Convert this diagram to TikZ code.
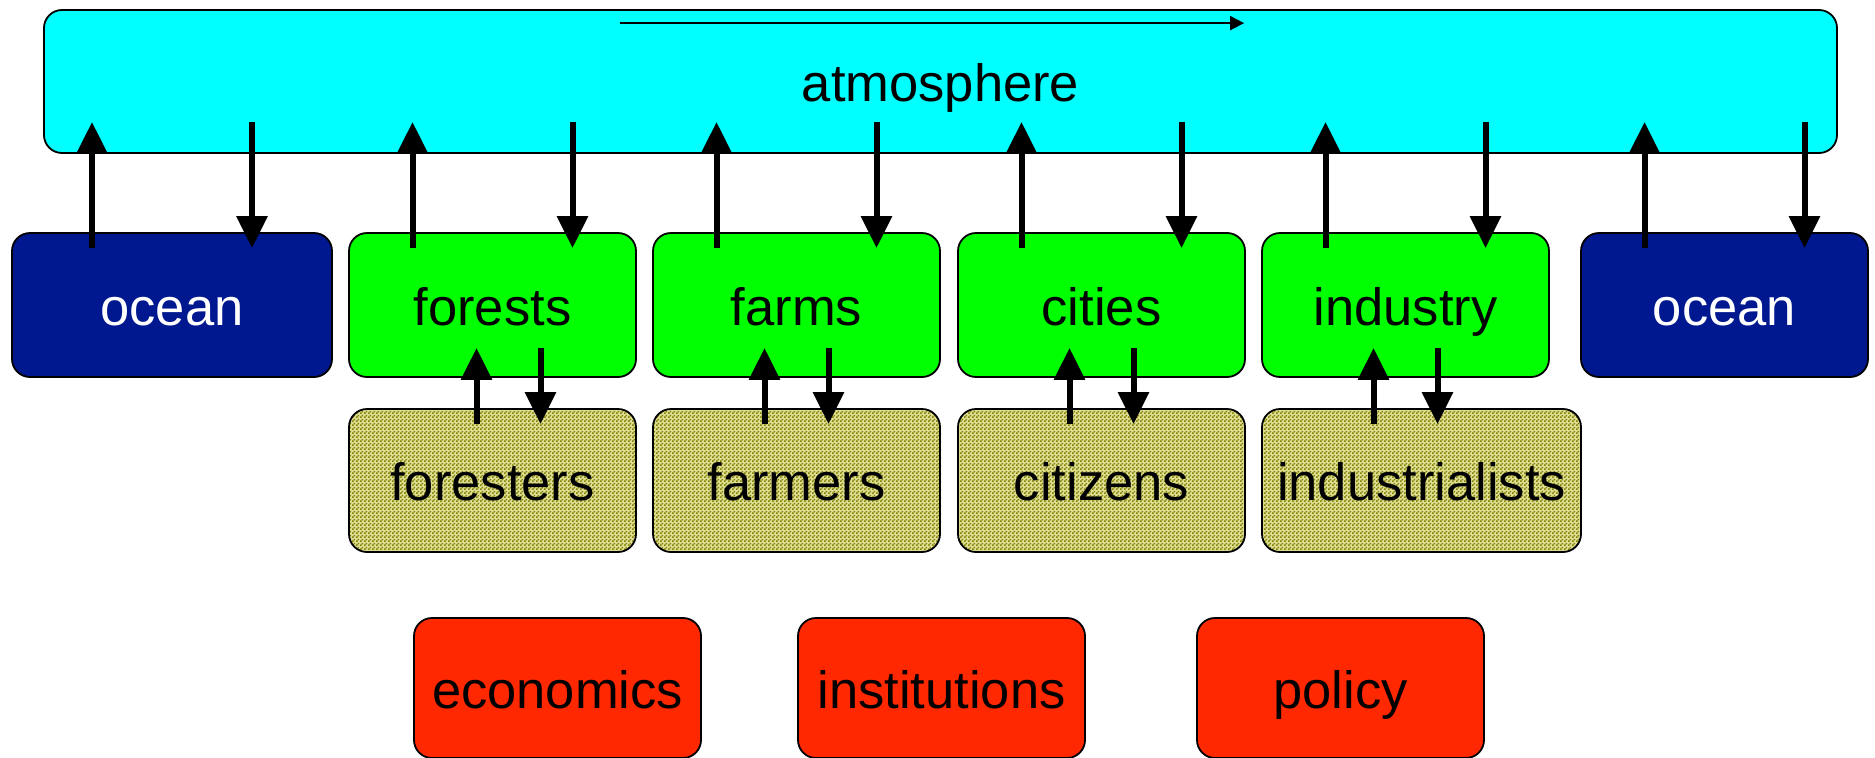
\documentclass[tikz,border=0pt]{standalone}
\usepackage{fontspec}
\setmainfont{Liberation Sans}
\usetikzlibrary{arrows.meta,patterns}
\pgfdeclarepatternformonly{finecheck}{\pgfpointorigin}{\pgfqpoint{4pt}{4pt}}{\pgfqpoint{4pt}{4pt}}{%
  \pgfpathrectangle{\pgfpointorigin}{\pgfqpoint{2pt}{2pt}}%
  \pgfpathrectangle{\pgfqpoint{2pt}{2pt}}{\pgfqpoint{2pt}{2pt}}%
  \pgfusepath{fill}}
\definecolor{atmocyan}{RGB}{0,255,255}
\definecolor{oceanblue}{RGB}{0,24,143}
\definecolor{landgreen}{RGB}{0,255,0}
\definecolor{socred}{RGB}{255,40,0}
\definecolor{checkolive}{RGB}{130,130,0}
\definecolor{checklight}{RGB}{222,222,150}
\tikzset{
  box/.style={draw=black, line width=1.8pt, rounded corners=18pt, inner sep=0pt,
    font=\fontsize{52.5}{60}\selectfont, text height=40pt, text depth=0pt, minimum height=144pt},
  atmobox/.style={box, fill=atmocyan, minimum width=1793pt, minimum height=143pt},
  oceanbox/.style={box, fill=oceanblue, text=white},
  landbox/.style={box, fill=landgreen, minimum width=287pt},
  peoplebox/.style={box, preaction={fill=checklight}, pattern=finecheck, pattern color=checkolive, minimum width=287pt, minimum height=143pt},
  sciencebox/.style={box, fill=socred, minimum width=287pt, minimum height=140pt},
  bigarrow/.style={line width=6pt, -{Triangle[width=30pt,length=32pt]}},
  thinarrow/.style={line width=1.8pt, -{Triangle[width=14pt,length=14pt]}}
}
\begin{document}
\begin{tikzpicture}[x=1pt,y=-1pt]
\useasboundingbox (0,0) rectangle (1875,758);
\node[atmobox] (atmo) at (940.5,81.5) {atmosphere};
\node[oceanbox, minimum width=320pt] (oceanL) at (172,305) {ocean};
\node[landbox] (forests) at (492.5,305) {forests};
\node[landbox] (farms) at (796.5,305) {farms};
\node[landbox] (cities) at (1101.5,305) {cities};
\node[landbox] (industry) at (1405.5,305) {industry};
\node[oceanbox, minimum width=287pt] (oceanR) at (1724.5,305) {ocean};
\node[peoplebox] (foresters) at (492.5,480.5) {foresters};
\node[peoplebox] (farmers) at (796.5,480.5) {farmers};
\node[peoplebox] (citizens) at (1101.5,480.5) {citizens};
\node[peoplebox, minimum width=319pt] (industrialists) at (1421.5,480.5) {industrialists};
\node[sciencebox] (economics) at (557.5,688) {economics};
\node[sciencebox] (institutions) at (941.5,688) {institutions};
\node[sciencebox] (policy) at (1340.5,688) {policy};
% flow arrow in atmosphere
\draw[thinarrow] ([shift={(577,14)}]atmo.north west) -- ([shift={(1201,14)}]atmo.north west);
% exchanges with the atmosphere
\foreach \n in {oceanL,forests,farms,cities,industry,oceanR}{
  \coordinate (A\n) at (\n.north |- atmo.south);
  \draw[bigarrow] ([shift={(-80,16)}]\n.north) -- ([shift={(-80,-32)}]A\n);
  \draw[bigarrow] ([shift={(80,-32)}]A\n) -- ([shift={(80,16)}]\n.north);
}
% exchanges between land and people
\draw[bigarrow] ([shift={(-16,16)}]foresters.north) -- ([shift={(-16,-30)}]forests.south);
\draw[bigarrow] ([shift={(48,-30)}]forests.south) -- ([shift={(48,16)}]foresters.north);
\draw[bigarrow] ([shift={(-32,16)}]farmers.north) -- ([shift={(-32,-30)}]farms.south);
\draw[bigarrow] ([shift={(32,-30)}]farms.south) -- ([shift={(32,16)}]farmers.north);
\draw[bigarrow] ([shift={(-32,16)}]citizens.north) -- ([shift={(-32,-30)}]cities.south);
\draw[bigarrow] ([shift={(32,-30)}]cities.south) -- ([shift={(32,16)}]citizens.north);
\draw[bigarrow] ([shift={(-48,16)}]industrialists.north) -- ([shift={(-32,-30)}]industry.south);
\draw[bigarrow] ([shift={(32,-30)}]industry.south) -- ([shift={(16,16)}]industrialists.north);
\end{tikzpicture}
\end{document}
